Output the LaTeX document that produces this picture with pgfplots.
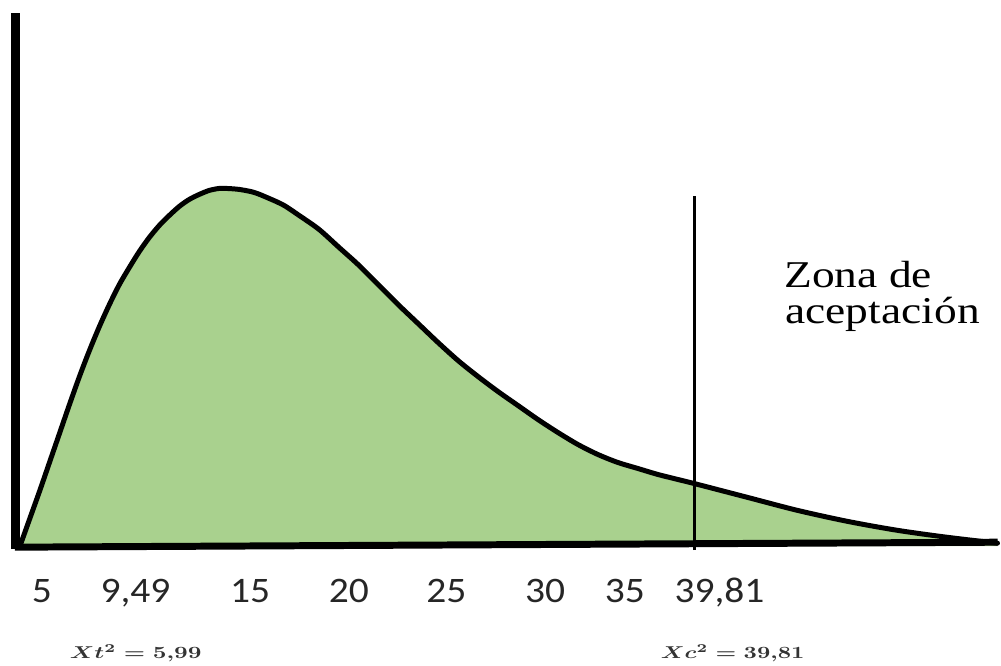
\documentclass[border=0pt]{standalone}
\usepackage{fontspec}
\usepackage{graphicx}
\usepackage{pgfplots}
\pgfplotsset{compat=1.18}
\newfontfamily\tickfont[FakeStretch=1.1]{Carlito}
\newfontfamily\zonafont[FakeStretch=1.2]{Liberation Serif}
\definecolor{areagreen}{HTML}{A9D18E}

\pgfplotstableread{
x y
20 0
30 28
40 56
50 85
60 114
70 143
80 171
90 197
100 221
110 243
120 263
130 280
140 296
150 310
160 322
170 332
180 341
190 348
200 353
210 357
220 359
227 359
240 358
255 355
270 349
285 342
300 332
320 318
340 300
360 282
380 262
400 242
420 223
440 204
460 186
480 170
500 155
520 141
540 127
560 114
580 102
600 92
620 84
640 78
660 72
680 67
700 62
750 49
800 36
850 25
900 16
950 9
1001 3
}\curvedata

\begin{document}
\begin{tikzpicture}
\begin{axis}[
  scale only axis, width=1001pt, height=668pt,
  xmin=0, xmax=1001, ymin=-120, ymax=548,
  axis line style={draw=none},
  ytick=\empty,
  xtick={42,136,251,350,448,547,627,722},
  xticklabels={5,{9,49},15,20,25,30,35,{39,81}},
  major tick length=0pt,
  xticklabel style={font=\tickfont\fontsize{36}{40}\selectfont, anchor=base, yshift=63pt, inner sep=0pt, text=black!85},
  clip=false,
]
% filled chi-square-like curve
\addplot[fill=areagreen, draw=none, smooth] table {\curvedata} \closedcycle;
\addplot[draw=black, line width=5pt, smooth, line join=round, line cap=round] table {\curvedata};
% critical value line
\addplot[draw=black, line width=3.5pt] coordinates {(697,-4) (697,351)};
% baseline
\addplot[draw=black, line width=7pt] coordinates {(15,-1) (1001,4)};
% vertical axis
\addplot[draw=black, line width=9pt] coordinates {(15.5,-3) (15.5,535)};

\node[anchor=base west, inner sep=0pt, font=\zonafont\fontsize{38}{40}\selectfont] at (axis cs:787,260) {Zona de};
\node[anchor=base west, inner sep=0pt, font=\zonafont\fontsize{38}{40}\selectfont] at (axis cs:788,223) {aceptación};

\node[anchor=base west, inner sep=0pt, text=black!80] at (axis cs:70,-113) {\resizebox{132pt}{14pt}{\mathversion{bold}$Xt^{2} = 5{,}99$}};
\node[anchor=base west, inner sep=0pt, text=black!80] at (axis cs:663,-113) {\resizebox{144pt}{14pt}{\mathversion{bold}$Xc^{2} = 39{,}81$}};
\end{axis}
\end{tikzpicture}
\end{document}
